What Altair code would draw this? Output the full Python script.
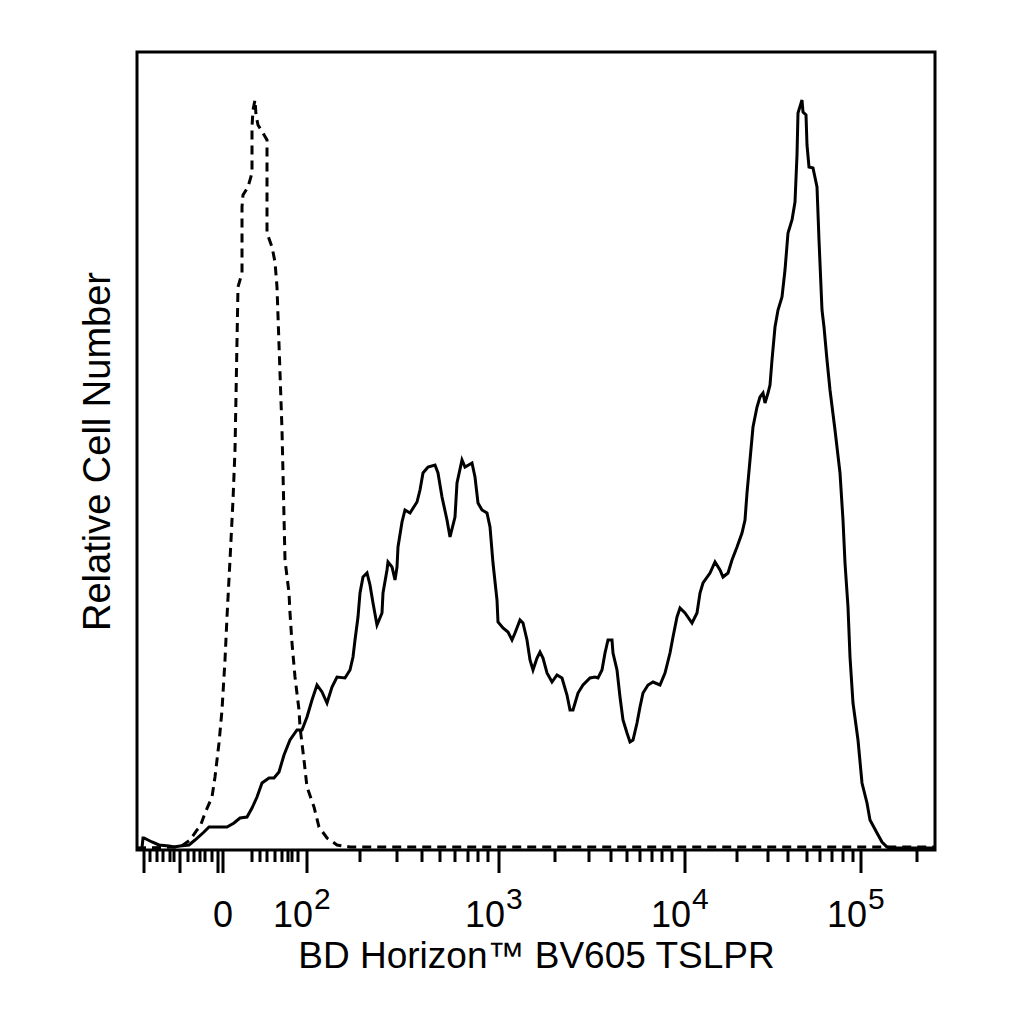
import pandas as pd
import altair as alt

# Histogram traces: x = display channel position, y = relative cell count
stained_x = [137, 142, 143, 144, 152, 159, 169, 174, 180, 189, 195, 204, 209, 227, 234,
             240, 247, 252, 257, 262, 269, 274, 279, 284, 290, 297, 302, 307, 312, 317,
             322, 327, 332, 337, 345, 350, 353, 355, 358, 360, 363, 367, 370, 373, 377,
             382, 383, 387, 388, 392, 395, 397, 398, 402, 405, 410, 417, 420, 423, 428,
             435, 438, 442, 447, 450, 455, 457, 462, 465, 472, 475, 478, 482, 487, 490,
             493, 497, 498, 503, 508, 512, 515, 520, 523, 527, 530, 533, 537, 540, 543,
             547, 552, 557, 562, 567, 570, 573, 578, 583, 590, 595, 598, 602, 605, 608,
             612, 613, 617, 620, 623, 627, 630, 633, 637, 640, 643, 648, 653, 660, 665,
             670, 673, 677, 680, 685, 692, 697, 700, 703, 710, 715, 720, 723, 728, 732,
             737, 742, 745, 747, 750, 753, 757, 760, 763, 765, 768, 770, 772, 775, 778,
             782, 785, 788, 792, 795, 797, 798, 802, 803, 806, 807, 809, 813, 817, 819,
             822, 824, 827, 830, 835, 840, 843, 845, 848, 850, 853, 858, 862, 867, 870,
             877, 882, 887, 892, 935]
stained_y = [1, 2, 12, 12, 8, 5, 4, 3, 4, 5, 10, 18, 23, 23, 27,
             32, 33, 42, 53, 67, 72, 72, 78, 95, 110, 120, 120, 133, 150, 165,
             158, 147, 163, 173, 172, 180, 193, 210, 233, 257, 273, 277, 265, 247, 225,
             237, 257, 280, 288, 283, 270, 283, 303, 328, 340, 337, 348, 360, 377, 383,
             385, 377, 353, 330, 313, 333, 367, 390, 383, 387, 373, 347, 340, 337, 323,
             287, 250, 228, 222, 218, 210, 217, 230, 227, 210, 190, 180, 192, 198, 192,
             177, 168, 175, 172, 155, 140, 140, 157, 165, 172, 173, 172, 180, 197, 210,
             210, 197, 180, 153, 130, 117, 108, 110, 127, 143, 157, 165, 168, 165, 177,
             197, 213, 233, 242, 237, 227, 237, 257, 267, 277, 288, 280, 273, 277, 290,
             303, 317, 330, 357, 390, 423, 443, 453, 457, 447, 457, 465, 490, 523, 540,
             553, 580, 617, 630, 648, 695, 737, 750, 738, 735, 705, 683, 682, 663, 610,
             540, 523, 490, 460, 420, 377, 330, 287, 243, 193, 147, 110, 67, 47, 30,
             17, 8, 3, 2, 2]

control_x = [137, 180, 190, 197, 200, 205, 212, 215, 219, 222, 225, 227, 230, 233, 235,
             238, 242, 242, 243, 248, 252, 252, 253, 255, 256, 258, 263, 267, 267, 272,
             275, 277, 282, 285, 289, 290, 292, 295, 299, 300, 304, 307, 314, 319, 327,
             337, 350, 935]
control_y = [2, 3, 10, 20, 23, 37, 53, 73, 107, 140, 190, 233, 290, 350, 400,
             563, 577, 643, 655, 663, 677, 723, 740, 750, 735, 725, 717, 710, 617, 603,
             588, 563, 420, 290, 257, 237, 207, 173, 140, 123, 90, 63, 43, 23, 12,
             5, 3, 3]

# Axis ticks (display channel positions)
long_ticks = [144, 180, 218, 223, 307, 499, 685, 861]
short_ticks = [150, 157, 163, 170, 174, 188, 194, 200, 205, 212,
               252, 260, 267, 275, 282, 288, 292, 298,
               360, 397, 422, 440, 455, 468, 478, 488,
               555, 589, 611, 627, 640, 652, 662, 672,
               737, 768, 788, 807, 820, 832, 843, 853,
               917]

zero_pos = [220]
zero_text = ["0"]
decade_pos = [307, 499, 685, 861]
decade_base = ["10", "10", "10", "10"]
decade_exp = ["2", "3", "4", "5"]

FONT = "Liberation Sans"
W = H = 798

x_scale = alt.Scale(domain=[137, 935], nice=False, zero=False)
y_scale = alt.Scale(domain=[0, 798], nice=False, zero=False)

stained = pd.DataFrame({"x": stained_x, "y": stained_y, "i": range(len(stained_x))})
control = pd.DataFrame({"x": control_x, "y": control_y, "i": range(len(control_x))})
long_df = pd.DataFrame({"x": long_ticks})
short_df = pd.DataFrame({"x": short_ticks})
zero_df = pd.DataFrame({"x": zero_pos, "t": zero_text})
decade_df = pd.DataFrame({"x": decade_pos, "base": decade_base, "exp": decade_exp})

x_axis = alt.Axis(
    title="BD Horizon™ BV605 TSLPR", ticks=False, labels=False, domain=False, grid=False,
    titleFont=FONT, titleFontSize=37, titleFontWeight="normal", titleColor="black",
    titleY=117, titleBaseline="alphabetic"
)
y_axis = alt.Axis(
    title="Relative Cell Number", ticks=False, labels=False, domain=False, grid=False,
    titleFont=FONT, titleFontSize=38, titleFontWeight="normal", titleColor="black",
    titleX=-28, titleBaseline="alphabetic"
)

stained_line = alt.Chart(stained).mark_line(color="black", strokeWidth=3).encode(
    x=alt.X("x:Q", scale=x_scale, axis=x_axis),
    y=alt.Y("y:Q", scale=y_scale, axis=y_axis),
    order="i:Q"
)

control_line = alt.Chart(control).mark_line(
    color="black", strokeWidth=3, strokeDash=[9, 6]
).encode(
    x=alt.X("x:Q", scale=x_scale),
    y=alt.Y("y:Q", scale=y_scale),
    order="i:Q"
)

long_rules = alt.Chart(long_df).mark_rule(color="black", strokeWidth=3).encode(
    x=alt.X("x:Q", scale=x_scale),
    y=alt.value(H),
    y2=alt.value(H + 23)
)
short_rules = alt.Chart(short_df).mark_rule(color="black", strokeWidth=3).encode(
    x=alt.X("x:Q", scale=x_scale),
    y=alt.value(H),
    y2=alt.value(H + 12)
)

zero_label = alt.Chart(zero_df).mark_text(
    font=FONT, fontSize=36, color="black", align="center", baseline="alphabetic", dx=3
).encode(
    x=alt.X("x:Q", scale=x_scale),
    y=alt.value(875),
    text="t:N"
)
decade_label = alt.Chart(decade_df).mark_text(
    font=FONT, fontSize=36, color="black", align="right", baseline="alphabetic", dx=6
).encode(
    x=alt.X("x:Q", scale=x_scale),
    y=alt.value(875),
    text="base:N"
)
decade_sup = alt.Chart(decade_df).mark_text(
    font=FONT, fontSize=30, color="black", align="left", baseline="alphabetic", dx=7
).encode(
    x=alt.X("x:Q", scale=x_scale),
    y=alt.value(857),
    text="exp:N"
)

chart = alt.layer(
    stained_line, control_line, long_rules, short_rules,
    zero_label, decade_label, decade_sup
).properties(
    width=W,
    height=H,
    autosize=alt.AutoSizeParams(type="none"),
    padding={"left": 129, "top": 44, "right": 70, "bottom": 150},
    background="white"
).configure_view(
    stroke="black",
    strokeWidth=3
)

chart.save("out.html", embed_options={"renderer": "svg", "actions": False})
